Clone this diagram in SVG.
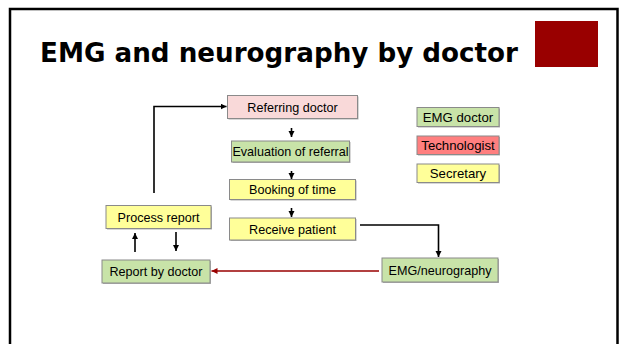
<svg xmlns="http://www.w3.org/2000/svg" width="619" height="344" viewBox="0 0 619 344">
  <style>
    .frame { fill: #ffffff; stroke: #000000; stroke-width: 2.5; }
    .title { font-family: "DejaVu Sans", "Liberation Sans", Arial, sans-serif; font-weight: bold; font-size: 26px; fill: #000000; }
    .box { stroke: #8a8a8a; stroke-width: 1; }
    .shadow { fill: #b0b0b0; }
    .pink { fill: #f9d9d9; }
    .green { fill: #c8e3a8; }
    .yellow { fill: #ffff99; }
    .red { fill: #ff7f7f; }
    .label { font-family: "Liberation Sans", Arial, sans-serif; font-size: 12.6px; fill: #000000; text-anchor: middle; }
    .legend { font-size: 13.2px; }
    .conn { fill: none; stroke: #000000; stroke-width: 1.6; }
    .conn-red { fill: none; stroke: #990000; stroke-width: 1.6; }
  </style>
  <defs>
    <marker id="arrow" markerUnits="userSpaceOnUse" markerWidth="8" markerHeight="8" refX="6" refY="3" orient="auto">
      <path d="M0,0 L6,3 L0,6 Z" fill="#000000"/>
    </marker>
    <marker id="arrow-red" markerUnits="userSpaceOnUse" markerWidth="8" markerHeight="8" refX="6" refY="3" orient="auto">
      <path d="M0,0 L6,3 L0,6 Z" fill="#990000"/>
    </marker>
  </defs>

  <!-- slide frame (open at the bottom edge) -->
  <rect class="frame" x="10" y="9" width="607.5" height="360"/>

  <text class="title" x="40" y="62" textLength="478" lengthAdjust="spacingAndGlyphs">EMG and neurography by doctor</text>
  <rect x="535" y="21" width="63" height="46" fill="#990000"/>

  <!-- connectors -->
  <g id="connectors">
    <path class="conn" d="M154,193 L154,106.5 L226.5,106.5" marker-end="url(#arrow)"/>
    <path class="conn" d="M291.5,128 L291.5,137" marker-end="url(#arrow)"/>
    <path class="conn" d="M291.5,171 L291.5,179" marker-end="url(#arrow)"/>
    <path class="conn" d="M291.5,208 L291.5,217" marker-end="url(#arrow)"/>
    <path class="conn" d="M360,225 L438.5,225 L438.5,257" marker-end="url(#arrow)"/>
    <path class="conn-red" d="M379,271 L211.5,271" marker-end="url(#arrow-red)"/>
    <path class="conn" d="M135,252 L135,233" marker-end="url(#arrow)"/>
    <path class="conn" d="M176,232 L176,251" marker-end="url(#arrow)"/>
  </g>

  <g id="referring-doctor">
    <rect class="shadow" x="228.5" y="96.5" width="130" height="23"/>
    <rect class="box pink" x="227.5" y="95.5" width="130" height="23"/>
    <text class="label" x="292.5" y="111.5">Referring doctor</text>
  </g>

  <g id="evaluation-of-referral">
    <rect class="shadow" x="232.5" y="142" width="118" height="21"/>
    <rect class="box green" x="231.5" y="141" width="118" height="21"/>
    <text class="label" x="290.5" y="155.8">Evaluation of referral</text>
  </g>

  <g id="booking-of-time">
    <rect class="shadow" x="230.5" y="180.5" width="126" height="20"/>
    <rect class="box yellow" x="229.5" y="179.5" width="126" height="20"/>
    <text class="label" x="292.5" y="194">Booking of time</text>
  </g>

  <g id="receive-patient">
    <rect class="shadow" x="230.5" y="219" width="126" height="22"/>
    <rect class="box yellow" x="229.5" y="218" width="126" height="22"/>
    <text class="label" x="292.5" y="233.5">Receive patient</text>
  </g>

  <g id="process-report">
    <rect class="shadow" x="107" y="206.5" width="105" height="23"/>
    <rect class="box yellow" x="106" y="205.5" width="105" height="23"/>
    <text class="label" x="158.5" y="221.5">Process report</text>
  </g>

  <g id="report-by-doctor">
    <rect class="shadow" x="103" y="261" width="108" height="23"/>
    <rect class="box green" x="102" y="260" width="108" height="23"/>
    <text class="label" x="156" y="276">Report by doctor</text>
  </g>

  <g id="emg-neurography">
    <rect class="shadow" x="383" y="259" width="116" height="24"/>
    <rect class="box green" x="382" y="258" width="116" height="24"/>
    <text class="label" x="440" y="274.5">EMG/neurography</text>
  </g>

  <g id="legend-emg-doctor">
    <rect class="shadow" x="418" y="108.5" width="82" height="19"/>
    <rect class="box green" x="417" y="107.5" width="82" height="19"/>
    <text class="label legend" x="458" y="121.8">EMG doctor</text>
  </g>

  <g id="legend-technologist">
    <rect class="shadow" x="418" y="137" width="82" height="18.5"/>
    <rect class="box red" x="417" y="136" width="82" height="18.5"/>
    <text class="label legend" x="458" y="150">Technologist</text>
  </g>

  <g id="legend-secretary">
    <rect class="shadow" x="418" y="165" width="82" height="18.5"/>
    <rect class="box yellow" x="417" y="164" width="82" height="18.5"/>
    <text class="label legend" x="458" y="178">Secretary</text>
  </g>
</svg>
